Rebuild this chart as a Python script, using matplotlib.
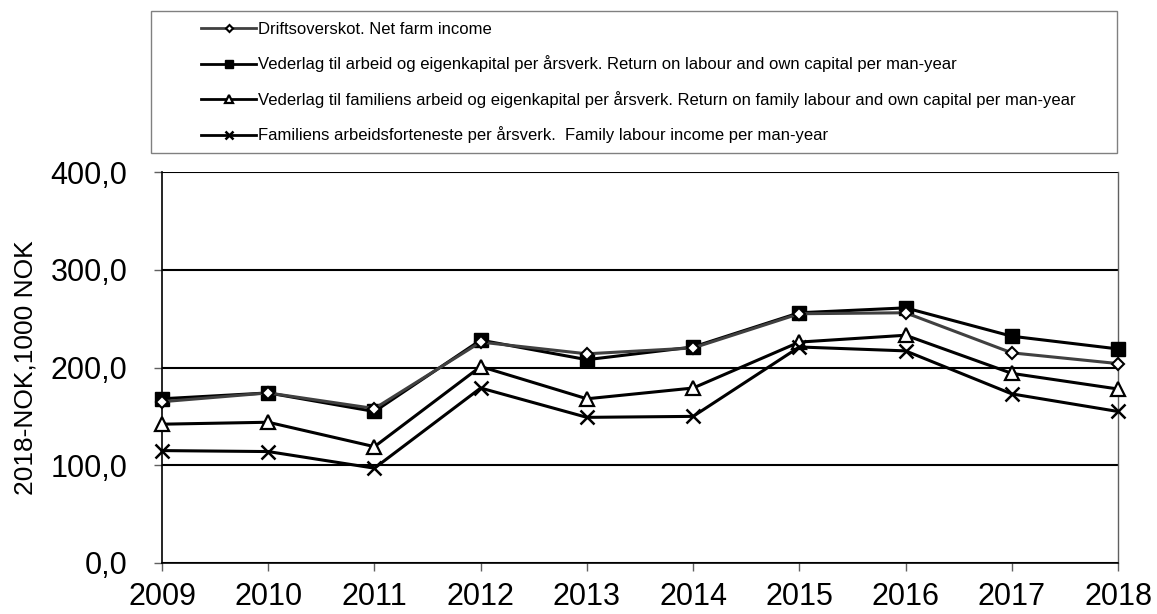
import matplotlib.pyplot as plt
from matplotlib.patches import Rectangle

plt.rcParams["font.family"] = ["Liberation Sans", "DejaVu Sans"]

years = [2009, 2010, 2011, 2012, 2013, 2014, 2015, 2016, 2017, 2018]
net_farm_income = [165, 174, 158, 226, 214, 220, 255, 256, 215, 204]
return_labour_capital = [168, 174, 155, 228, 208, 221, 256, 261, 232, 219]
return_family_labour = [142, 144, 119, 201, 168, 179, 226, 233, 194, 178]
family_labour_income = [115, 114, 97, 179, 149, 150, 221, 217, 173, 155]

labels = [
    "Driftsoverskot. Net farm income",
    "Vederlag til arbeid og eigenkapital per årsverk. Return on labour and own capital per man-year",
    "Vederlag til familiens arbeid og eigenkapital per årsverk. Return on family labour and own capital per man-year",
    "Familiens arbeidsforteneste per årsverk.  Family labour income per man-year",
]
y_ticks = [0, 100, 200, 300, 400]
y_ticklabels = ["0,0", "100,0", "200,0", "300,0", "400,0"]

W, H = 1157, 614
fig = plt.figure(figsize=(W / 100, H / 100), dpi=100)
ax = fig.add_axes([162 / W, 1 - 563 / H, (1118 - 162) / W, (563 - 172) / H])

ax.plot(years, net_farm_income, color="#404040", lw=2.2, marker="D",
        ms=6.5, mfc="white", mec="black", mew=1.5, label=labels[0],
        zorder=4, clip_on=False)
ax.plot(years, return_labour_capital, color="black", lw=2.2, marker="s",
        ms=10, mfc="black", mec="black", label=labels[1],
        zorder=3, clip_on=False)
ax.plot(years, return_family_labour, color="black", lw=2.2, marker="^",
        ms=10.5, mfc="white", mec="black", mew=1.6, label=labels[2],
        zorder=3, clip_on=False)
ax.plot(years, family_labour_income, color="black", lw=2.2, marker="x",
        ms=10, mec="black", mew=1.8, label=labels[3],
        zorder=3, clip_on=False)

ax.set_xlim(years[0], years[-1])
ax.set_ylim(0, 400)
ax.set_xticks(years)
ax.set_yticks(y_ticks)
ax.set_yticklabels(y_ticklabels)
ax.tick_params(axis="both", labelsize=22, direction="out", length=6,
               width=1, color="#606060")
ax.tick_params(axis="y", pad=19)
ax.tick_params(axis="x", pad=8)
ax.grid(axis="y", color="black", lw=1.5)
ax.set_axisbelow(True)

for side in ["left", "bottom"]:
    ax.spines[side].set_color("black")
    ax.spines[side].set_linewidth(1.2)
ax.spines["top"].set_visible(False)
ax.spines["right"].set_color("#606060")
ax.spines["right"].set_linewidth(1)

ax.set_ylabel("2018-NOK,1000 NOK", fontsize=19, labelpad=9)

# legend box drawn separately so the entries can sit indented inside it
fig.add_artist(Rectangle((151 / W, 1 - 153 / H), (1117 - 151) / W, 142 / H,
                         transform=fig.transFigure, fill=False,
                         edgecolor="#808080", lw=1))
leg = fig.legend(
    loc="upper left",
    bbox_to_anchor=(201 / W, 1 - 22 / H),
    fontsize=12,
    frameon=False,
    markerscale=0.55,
    handlelength=3.3,
    handletextpad=0.12,
    labelspacing=1.11,
    borderpad=0,
    borderaxespad=0,
)
for line in leg.get_lines():
    line.set_linewidth(2)

fig.savefig("out.png", dpi=100)
